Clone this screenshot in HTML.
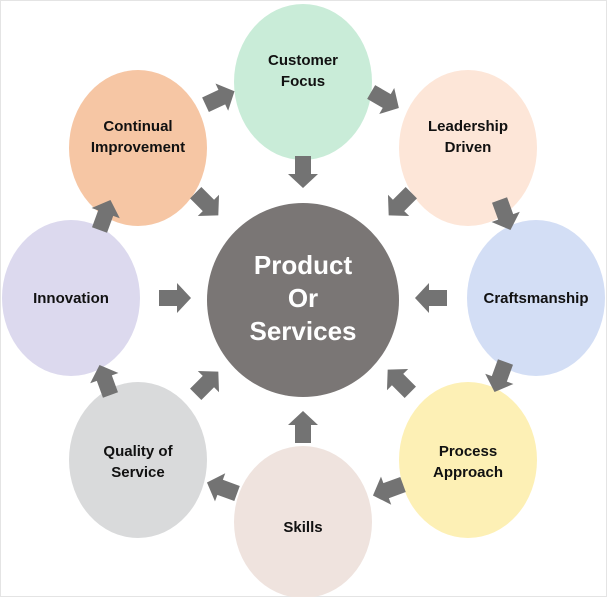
<!DOCTYPE html>
<html><head><meta charset="utf-8"><style>
html,body{margin:0;padding:0;background:#fff;}
svg{display:block;}
text{font-family:"Liberation Sans",Arial,sans-serif;font-weight:bold;text-anchor:middle;}
</style></head><body>
<svg width="607" height="597" viewBox="0 0 607 597">
<rect x="0" y="0" width="607" height="597" fill="#fff"/>
<rect x="0.5" y="0.5" width="606" height="596" fill="none" stroke="#e4e4e4"/>
<defs>
<polygon id="ar" points="-16,-8 2,-8 2,-15 16,0 2,15 2,8 -16,8" fill="#737373"/>
</defs>
<ellipse cx="303" cy="82" rx="69" ry="78" fill="#c9ecd8"/>
<ellipse cx="138" cy="148" rx="69" ry="78" fill="#f6c6a4"/>
<ellipse cx="468" cy="148" rx="69" ry="78" fill="#fde6d8"/>
<ellipse cx="71" cy="298" rx="69" ry="78" fill="#dcd9ee"/>
<ellipse cx="536" cy="298" rx="69" ry="78" fill="#d3def5"/>
<ellipse cx="138" cy="460" rx="69" ry="78" fill="#d9dadb"/>
<ellipse cx="468" cy="460" rx="69" ry="78" fill="#fdf0b5"/>
<ellipse cx="303" cy="522" rx="69" ry="76" fill="#efe3de"/>
<ellipse cx="303" cy="300" rx="96" ry="97" fill="#7a7675"/>
<use href="#ar" transform="translate(220,98) rotate(-25)"/>
<use href="#ar" transform="translate(385,100) rotate(30)"/>
<use href="#ar" transform="translate(505,215) rotate(70)"/>
<use href="#ar" transform="translate(500,377) rotate(110)"/>
<use href="#ar" transform="translate(388,490) rotate(160)"/>
<use href="#ar" transform="translate(222,488) rotate(200)"/>
<use href="#ar" transform="translate(105,380) rotate(-110)"/>
<use href="#ar" transform="translate(105,215) rotate(-70)"/>
<use href="#ar" transform="translate(303,172) rotate(90)"/>
<use href="#ar" transform="translate(207,204) rotate(45)"/>
<use href="#ar" transform="translate(400,204) rotate(135)"/>
<use href="#ar" transform="translate(175,298) rotate(0)"/>
<use href="#ar" transform="translate(431,298) rotate(180)"/>
<use href="#ar" transform="translate(207,383) rotate(-45)"/>
<use href="#ar" transform="translate(399,381) rotate(-135)"/>
<use href="#ar" transform="translate(303,427) rotate(-90)"/>
<g font-size="15" fill="#111">
<text x="303" y="65">Customer</text><text x="303" y="86">Focus</text>
<text x="138" y="131">Continual</text><text x="138" y="152">Improvement</text>
<text x="468" y="131">Leadership</text><text x="468" y="152">Driven</text>
<text x="71" y="303">Innovation</text>
<text x="536" y="303">Craftsmanship</text>
<text x="138" y="456">Quality of</text><text x="138" y="477">Service</text>
<text x="468" y="456">Process</text><text x="468" y="477">Approach</text>
<text x="303" y="532">Skills</text>
</g>
<g font-size="26" fill="#fff">
<text x="303" y="274">Product</text><text x="303" y="307">Or</text><text x="303" y="340">Services</text>
</g>
</svg>
</body></html>
